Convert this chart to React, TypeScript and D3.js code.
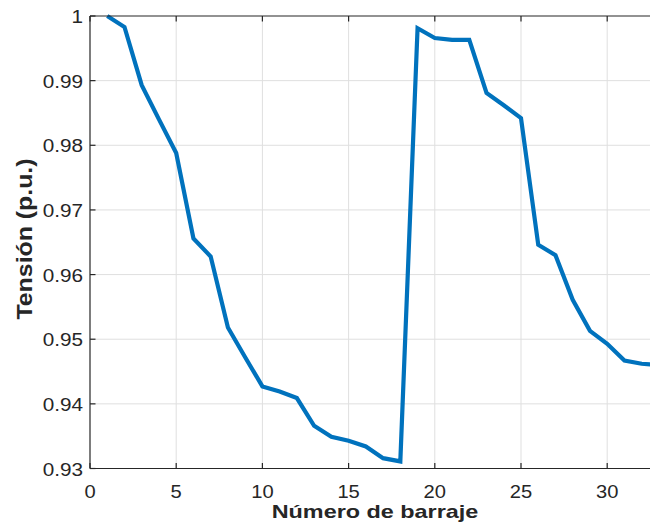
import { useRef, useEffect } from "react";
import * as d3 from "d3";

const buses = d3.range(1, 34);
const voltages = [
  1.0, 0.9983, 0.9893, 0.9840, 0.9788, 0.9656, 0.9628, 0.9518, 0.9472, 0.9427,
  0.9419, 0.9409, 0.9366, 0.9349, 0.9343, 0.9334, 0.9316, 0.9311, 0.9981, 0.9966,
  0.9963, 0.9963, 0.9881, 0.9862, 0.9842, 0.9646, 0.9630, 0.9561, 0.9513, 0.9493,
  0.9467, 0.9462, 0.9460,
];
const xTicks = [0, 5, 10, 15, 20, 25, 30];
const yTicks = [0.93, 0.94, 0.95, 0.96, 0.97, 0.98, 0.99, 1];

const W = 650, H = 524;
const FONT = "'Liberation Sans', Arial, Helvetica, sans-serif";

export default function App() {
  const ref = useRef<SVGSVGElement>(null);

  useEffect(() => {
    if (!ref.current) return;
    const svg = d3.select(ref.current); svg.selectAll("*").remove();
    const left = 90, top = 16, bottom = 468.5;
    const x = d3.scaleLinear().domain([0, 33]).range([left, left + 33 * 17.24]);
    const y = d3.scaleLinear().domain([0.93, 1]).range([bottom, top]);
    const right = x(33);

    svg.append("rect").attr("width", W).attr("height", H).attr("fill", "#fff");

    // grid
    const grid = svg.append("g").attr("stroke", "#dfdfdf").attr("stroke-width", 1);
    grid.selectAll(".gx").data(xTicks.slice(1)).join("line")
      .attr("x1", d => x(d)).attr("x2", d => x(d)).attr("y1", top).attr("y2", bottom);
    grid.selectAll(".gy").data(yTicks.slice(1, -1)).join("line")
      .attr("x1", left).attr("x2", right).attr("y1", d => y(d)).attr("y2", d => y(d));

    // data line
    const line = d3.line<number>().x((_d, i) => x(buses[i])).y(d => y(d));
    svg.append("path").datum(voltages).attr("fill", "none").attr("stroke", "#0072BD")
      .attr("stroke-width", 4.2).attr("stroke-linejoin", "miter").attr("d", line);

    // box and ticks
    const ax = svg.append("g").attr("stroke", "#262626").attr("stroke-width", 1.2);
    ax.append("line").attr("x1", left).attr("x2", right).attr("y1", bottom).attr("y2", bottom);
    ax.append("line").attr("x1", left).attr("x2", right).attr("y1", top).attr("y2", top);
    ax.append("line").attr("x1", left).attr("x2", left).attr("y1", top).attr("y2", bottom);
    const tl = 5.5;
    xTicks.forEach(t => {
      ax.append("line").attr("x1", x(t)).attr("x2", x(t)).attr("y1", bottom).attr("y2", bottom - tl);
      ax.append("line").attr("x1", x(t)).attr("x2", x(t)).attr("y1", top).attr("y2", top + tl);
    });
    yTicks.forEach(t => {
      ax.append("line").attr("x1", left).attr("x2", left + tl).attr("y1", y(t)).attr("y2", y(t));
    });

    // tick labels (slightly widened, as in the source figure)
    svg.selectAll(".xl").data(xTicks).join("text")
      .attr("transform", d => `translate(${x(d)},${bottom + 29}) scale(1.12,1)`)
      .attr("text-anchor", "middle")
      .attr("fill", "#262626").attr("font-size", "18px").attr("font-family", FONT)
      .text(d => String(d));
    svg.selectAll(".yl").data(yTicks).join("text")
      .attr("transform", d => `translate(${left - 7},${y(d) + 7}) scale(1.12,1)`)
      .attr("text-anchor", "end")
      .attr("fill", "#262626").attr("font-size", "18.5px").attr("font-family", FONT)
      .text(d => String(d));

    // axis titles
    svg.append("text").attr("transform", `translate(375,517.5) scale(1.3,1)`).attr("text-anchor", "middle")
      .attr("fill", "#262626").attr("font-size", "18px").attr("font-weight", "bold").attr("font-family", FONT)
      .text("Número de barraje");
    svg.append("text").attr("transform", `translate(32,239) rotate(-90) scale(1.13,1)`)
      .attr("text-anchor", "middle")
      .attr("fill", "#262626").attr("font-size", "22px").attr("font-weight", "bold").attr("font-family", FONT)
      .text("Tensión (p.u.)");
  }, []);

  return (
    <div style={{ position: "absolute", left: 0, top: 0 }}>
      <svg ref={ref} width={W} height={H} style={{ display: "block" }} />
    </div>
  );
}
